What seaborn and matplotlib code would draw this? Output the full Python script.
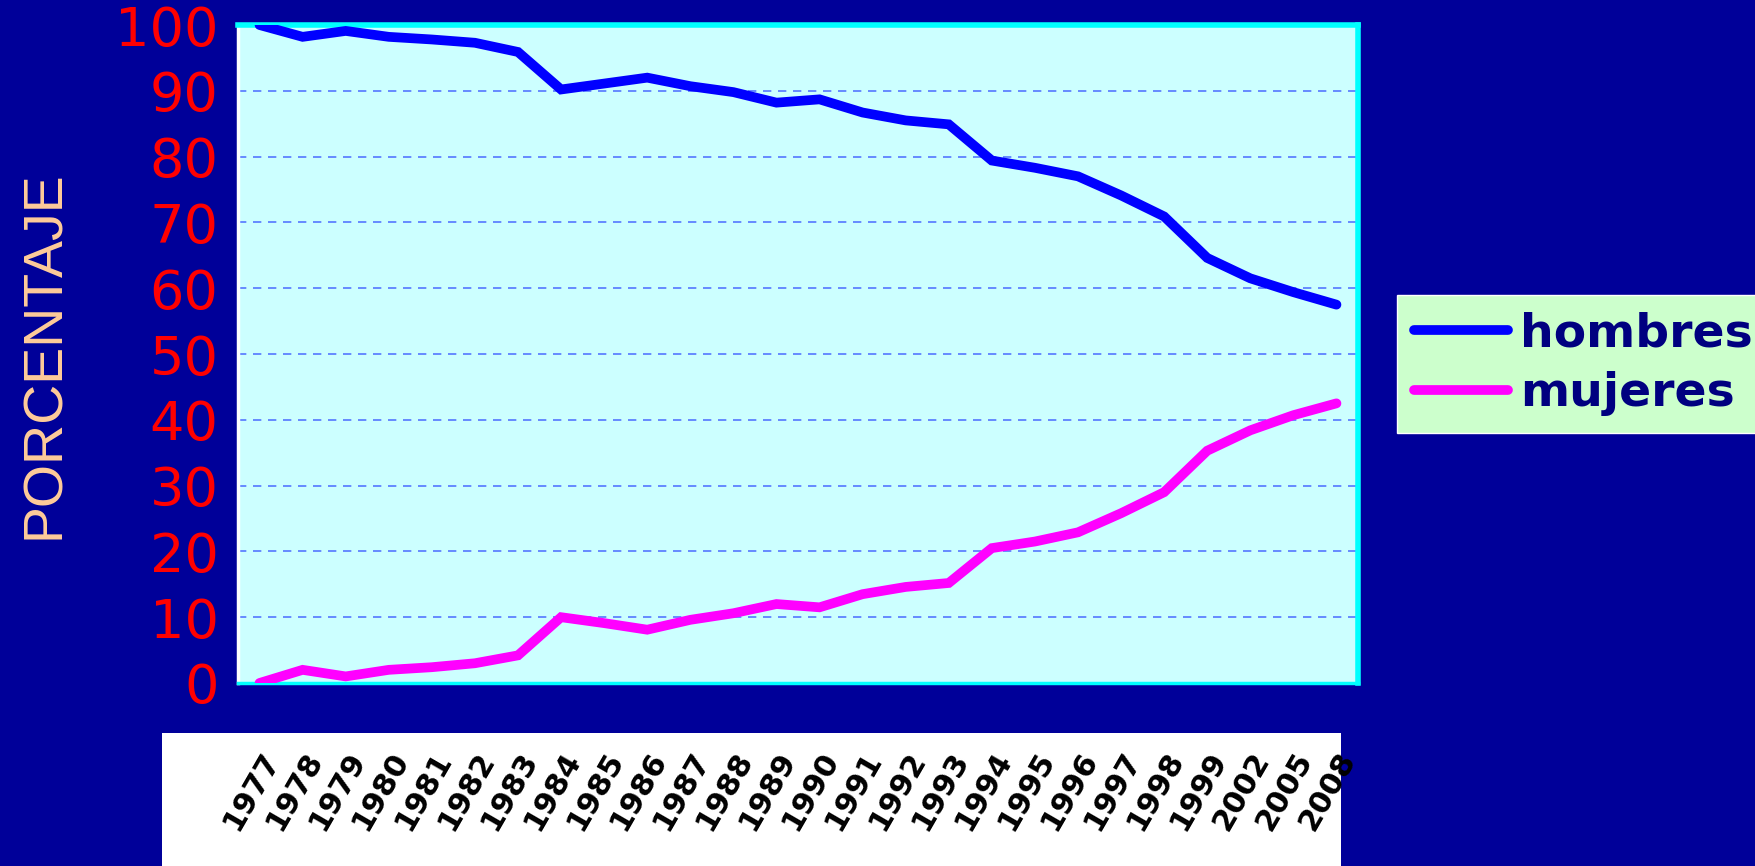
import matplotlib
matplotlib.use("Agg")
import matplotlib.pyplot as plt
import seaborn as sns
import pandas as pd
from matplotlib.patches import Rectangle

# ---- data ----
years = [str(y) for y in range(1977, 2000)] + ["2002", "2005", "2008"]
hombres = [100, 98.2, 99.1, 98.2, 97.8, 97.3, 95.9, 90.2, 91.1, 92.0, 90.7, 89.8, 88.2,
           88.7, 86.7, 85.5, 84.9, 79.4, 78.3, 77.0, 74.1, 70.9, 64.6, 61.5, 59.4, 57.5]
mujeres = [0, 2.0, 1.0, 2.0, 2.4, 3.0, 4.2, 10.0, 9.1, 8.1, 9.6, 10.6, 12.0,
           11.5, 13.5, 14.6, 15.2, 20.5, 21.5, 22.9, 25.8, 29.0, 35.3, 38.4, 40.7, 42.5]
series_names = ["hombres", "mujeres"]
yticks = list(range(0, 101, 10))

sns.set_style("white")
plt.rcParams["font.family"] = ["DejaVu Sans"]

W, H = 1755, 866
fig = plt.figure(figsize=(W / 100, H / 100), dpi=100)
bg = "#000099"
fig.patch.set_facecolor(bg)

# white box behind x labels
fig.patches.append(Rectangle((162 / W, 0), (1341 - 162) / W, (866 - 733) / H,
                             transform=fig.transFigure, facecolor="white",
                             edgecolor="none", zorder=-1))

ax = fig.add_axes([238 / W, (866 - 683) / H, (1358 - 238) / W, (683 - 25) / H])
ax.set_zorder(1)
ax.set_facecolor("#CCFFFF")

pos = list(range(len(years)))
df = pd.DataFrame({"x": pos * 2,
                   "valor": hombres + mujeres,
                   "serie": [series_names[0]] * len(pos) + [series_names[1]] * len(pos)})
sns.lineplot(data=df, x="x", y="valor", hue="serie",
             palette={"hombres": "#0000FF", "mujeres": "#FF00FF"},
             linewidth=7, ax=ax, legend=True, zorder=5)
for ln in ax.lines:
    ln.set_solid_capstyle("round")
    ln.set_solid_joinstyle("miter")

ax.set_xlim(-0.5, len(years) - 0.5)
ax.set_ylim(0, 100)
ax.set_yticks(yticks)
ax.set_yticklabels([str(v) for v in yticks], color="red", fontsize=39)
ax.yaxis.grid(True, linestyle=(0, (5, 4)), color="#5577FF", linewidth=1.2)
ax.set_axisbelow(True)
ax.tick_params(axis="y", direction="out", length=12, width=2.5, color="white", pad=2)

# x: category boundaries as white tick marks, labels at centers
ax.set_xticks([p - 0.5 for p in pos] + [len(years) - 0.5], minor=True)
ax.set_xticks(pos)
ax.set_xticklabels(years, rotation=60, ha="right", rotation_mode="anchor",
                   fontsize=22, color="black", fontweight="bold")
ax.tick_params(axis="x", which="major", length=0, pad=46)
ax.tick_params(axis="x", which="minor", direction="out", length=12, width=2.5, color="white")

ax.set_xlabel("")
ax.set_ylabel("")
fig.text(45 / W, 1 - 355 / H, "PORCENTAJE", rotation=90, ha="center", va="center",
         color="#FFCC99", fontsize=40, family=["Liberation Sans", "DejaVu Sans"])

for side in ["top", "right"]:
    ax.spines[side].set_color("#00FFFF")
    ax.spines[side].set_linewidth(4)
ax.spines["left"].set_color("white")
ax.spines["left"].set_linewidth(2.5)
ax.spines["bottom"].set_color("#00FFFF")
ax.spines["bottom"].set_linewidth(2.5)

handles, labels = ax.get_legend_handles_labels()
ax.get_legend().remove()
leg = fig.legend(handles, labels, loc="center left",
                 bbox_to_anchor=(1397 / W, 1 - 364 / H), bbox_transform=fig.transFigure,
                 frameon=True, fancybox=False, facecolor="#CCFFCC", edgecolor="white",
                 framealpha=1, handlelength=2.0, handletextpad=0.25, borderpad=0.35,
                 labelspacing=0.3, borderaxespad=0,
                 prop={"size": 34, "weight": "bold"})
for t in leg.get_texts():
    t.set_color("#000080")
for l in leg.get_lines():
    l.set_linewidth(7)
    l.set_solid_capstyle("round")

fig.savefig("out.png", dpi=100, facecolor=bg)
